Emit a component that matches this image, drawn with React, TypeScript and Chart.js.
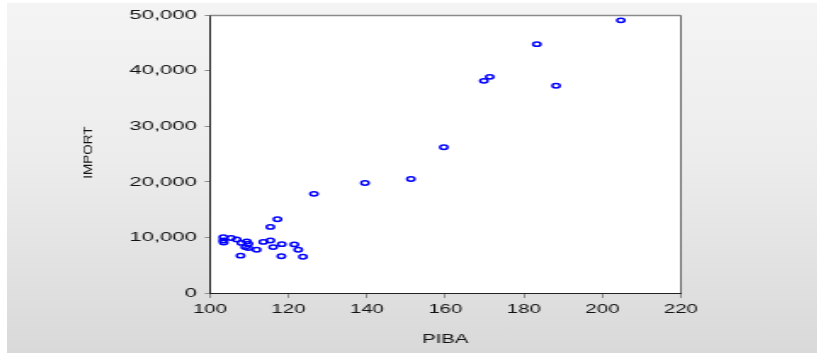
import { useEffect, useRef } from "react";
import { Chart, registerables } from "chart.js";

Chart.register(...registerables);

// ---- data ----
const PIBA = [
  103.4, 103.4, 103.5, 105.4, 106.8, 108.0, 109.4, 109.8, 109.0, 109.8, 111.9,
  113.6, 115.4, 116.1, 118.3, 121.5, 122.5, 107.8, 118.2, 123.7, 115.4, 117.2,
  126.5, 139.5, 151.2, 159.6, 169.8, 171.3, 183.3, 188.2, 204.7,
];
const IMPORT = [
  10050, 9460, 9100, 9910, 9640, 9020, 9290, 8880, 8270, 8090, 7800,
  9200, 9460, 8270, 8800, 8750, 7800, 6730, 6610, 6520, 11910, 13270,
  17860, 19820, 20540, 26250, 38210, 38930, 44820, 37320, 49110,
];
const X_TICKS = [100, 120, 140, 160, 180, 200, 220];
const Y_TICKS = [0, 10000, 20000, 30000, 40000, 50000];
const X_TITLE = "PIBA";
const Y_TITLE = "IMPORT";

const STRETCH = 1.7;
const W = 476;
const H = 350;
const FONT = '"Liberation Sans", Arial, sans-serif';
const TEXT = "#111111";

export default function App() {
  const ref = useRef<HTMLCanvasElement>(null);

  useEffect(() => {
    if (!ref.current) return;

    const framePlugin = {
      id: "frame",
      beforeDraw(chart: any) {
        const { ctx, chartArea: a } = chart;
        ctx.save();
        ctx.fillStyle = "#ffffff";
        ctx.fillRect(a.left, a.top, a.right - a.left, a.bottom - a.top);
        ctx.restore();
      },
      afterDraw(chart: any) {
        const { ctx, chartArea: a } = chart;
        ctx.save();
        ctx.strokeStyle = "#8a8a8a";
        ctx.lineWidth = 1.5;
        ctx.beginPath();
        ctx.moveTo(a.left, a.top);
        ctx.lineTo(a.right, a.top);
        ctx.stroke();
        ctx.strokeStyle = "#6a6a6a";
        ctx.lineWidth = 1;
        ctx.beginPath();
        ctx.moveTo(a.right, a.top);
        ctx.lineTo(a.right, a.bottom);
        ctx.stroke();
        ctx.restore();

        // y axis title, drawn unstretched
        ctx.save();
        ctx.translate(48.3, (a.top + a.bottom) / 2 - 1.5);
        ctx.scale(1 / STRETCH, 1);
        ctx.rotate(-Math.PI / 2);
        ctx.font = `13.5px ${FONT}`;
        ctx.fillStyle = TEXT;
        ctx.textAlign = "center";
        ctx.textBaseline = "middle";
        ctx.fillText(Y_TITLE, 0, 0);
        ctx.restore();
      },
    };

    const chart = new Chart(ref.current, {
      type: "scatter",
      data: {
        datasets: [
          {
            data: PIBA.map((x, i) => ({ x, y: IMPORT[i] })),
            pointStyle: "circle",
            pointRadius: 2.2,
            pointBorderWidth: 1.5,
            borderColor: "#0000ff",
            backgroundColor: "rgba(0,0,0,0)",
            pointBackgroundColor: "rgba(0,0,0,0)",
            pointBorderColor: "#0000ff",
          },
        ],
      },
      options: {
        responsive: false,
        animation: false,
        devicePixelRatio: 1,
        layout: { padding: { top: 10, right: 79.5, bottom: 0, left: 0 } },
        plugins: {
          legend: { display: false },
          tooltip: { enabled: false },
        },
        scales: {
          x: {
            type: "linear",
            min: X_TICKS[0],
            max: X_TICKS[X_TICKS.length - 1],
            afterBuildTicks: (s: any) => {
              s.ticks = X_TICKS.map((v) => ({ value: v }));
            },
            afterFit: (s: any) => {
              s.height = 60;
            },
            grid: {
              drawOnChartArea: false,
              drawTicks: true,
              tickLength: 5,
              color: "#8a8a8a",
              tickColor: "#8a8a8a",
            },
            border: { display: true, color: "#222222", width: 1 },
            ticks: {
              padding: 4,
              color: TEXT,
              font: { family: FONT, size: 12 },
              maxRotation: 0,
              autoSkip: false,
              callback: (v: any) => String(v),
            },
            title: {
              display: true,
              text: X_TITLE,
              color: TEXT,
              font: { family: FONT, size: 12 },
              padding: { top: 0, bottom: 6 },
            },
          },
          y: {
            type: "linear",
            min: Y_TICKS[0],
            max: Y_TICKS[Y_TICKS.length - 1],
            afterBuildTicks: (s: any) => {
              s.ticks = Y_TICKS.map((v) => ({ value: v }));
            },
            afterFit: (s: any) => {
              s.width = 119.4;
            },
            grid: {
              drawOnChartArea: false,
              drawTicks: true,
              tickLength: 3,
              color: "#8a8a8a",
              tickColor: "#8a8a8a",
            },
            border: { display: true, color: "#222222", width: 1 },
            ticks: {
              padding: 4.6,
              color: TEXT,
              font: { family: FONT, size: 13 },
              autoSkip: false,
              callback: (v: any) => Number(v).toLocaleString("en-US"),
            },
            title: { display: false },
          },
        },
      },
      plugins: [framePlugin],
    } as any);

    return () => chart.destroy();
  }, []);

  return (
    <div
      style={{
        position: "absolute",
        left: 7,
        top: 3,
        width: 810,
        height: 350,
        background: "linear-gradient(to bottom, #f4f4f4 0%, #ececec 45%, #d9d9d9 100%)",
      }}
    >
      <canvas
        ref={ref}
        width={W}
        height={H}
        style={{ width: `${W * STRETCH}px`, height: `${H}px`, display: "block" }}
      />
    </div>
  );
}
